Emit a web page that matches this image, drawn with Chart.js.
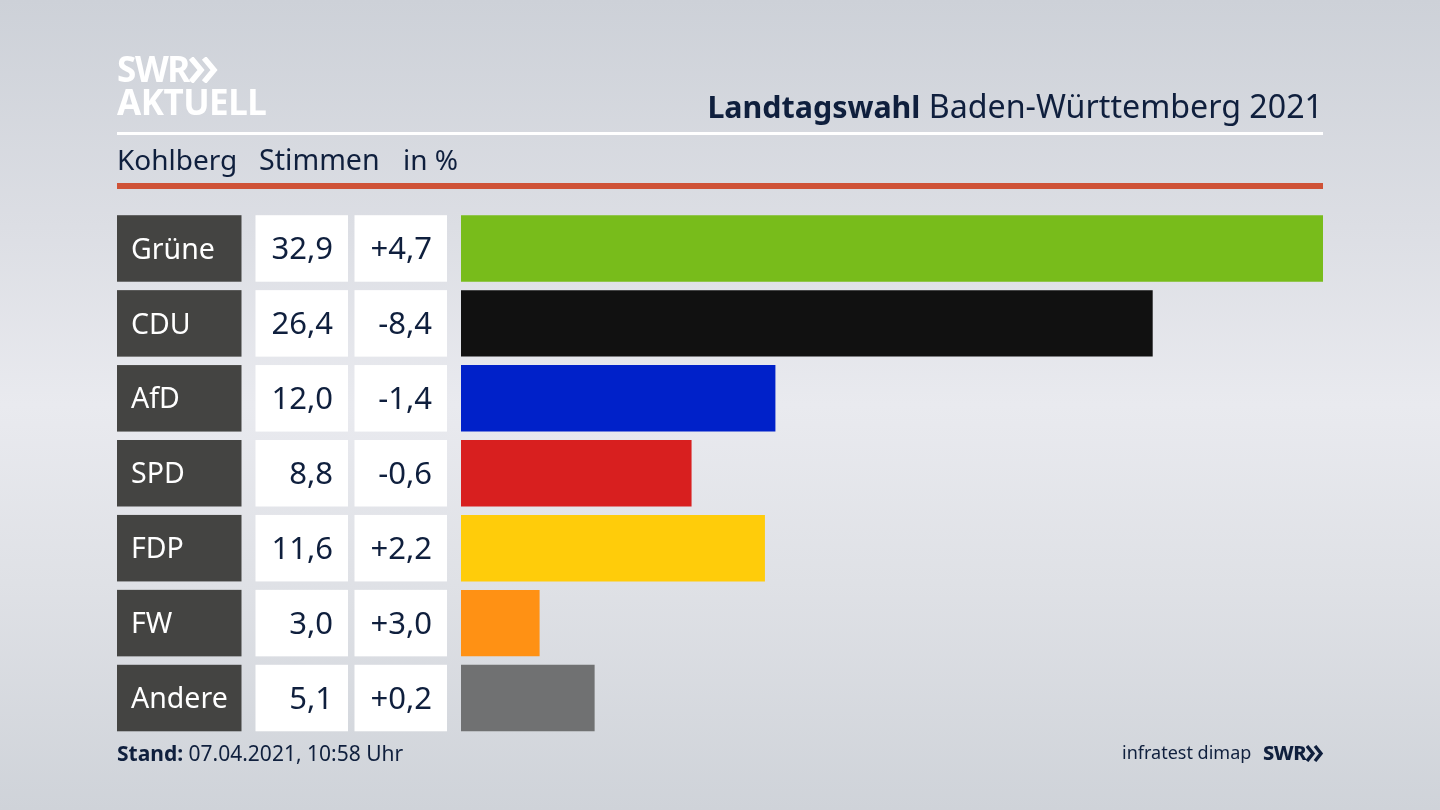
<!DOCTYPE html>
<html lang="de">
<head>
<meta charset="utf-8">
<title>Landtagswahl Baden-Württemberg 2021</title>
<script src="https://cdn.jsdelivr.net/npm/chart.js@4"></script>
<style>
	html, body { margin: 0; padding: 0; }
	body {
		position: relative;
		width: 1440px;
		height: 810px;
		overflow: hidden;
		font-family: 'Noto Sans', sans-serif;
		color: #0f1f3d;
		background: linear-gradient(180deg, #cdd1d8 0%, #dcdee4 28%, #e9eaef 50%, #dfe1e6 72%, #cfd3d9 100%);
	}
	canvas { position: absolute; left: 0; top: 0; }
	.t { position: absolute; white-space: nowrap; line-height: 1; }
	.rule { position: absolute; left: 117px; width: 1206px; }
	.logo { color: #fff; font-weight: 700; letter-spacing: -0.5px; }
	svg { position: absolute; }
</style>
</head>
<body>
<canvas id="graph" width="1440" height="810"></canvas>

<div class="t logo" style="left:117px;top:51px;font-size:35px;letter-spacing:-1.4px;">SWR</div>
<svg style="left:189px;top:57px" width="31" height="26" viewBox="0 0 31 26">
	<path d="M2 1 L12 13 L2 25 M15 1 L25 13 L15 25" fill="none" stroke="#fff" stroke-width="5.5"/>
</svg>
<div class="t logo" style="left:117px;top:84px;font-size:35px;letter-spacing:-0.5px;">AKTUELL</div>

<div class="t" style="right:117px;top:90px;font-size:32.2px;"><b style="font-size:30.4px;">Landtagswahl</b> Baden-Württemberg 2021</div>
<div class="rule" style="top:132px;height:3px;background:#fff;"></div>

<div class="t" style="left:117px;top:145px;font-size:28px;">Kohlberg</div>
<div class="t" style="left:259px;top:145px;font-size:28.6px;">Stimmen</div>
<div class="t" style="left:403px;top:145px;font-size:28px;">in %</div>
<div class="rule" style="top:183px;height:6px;background:#cf5237;"></div>

<div class="t" style="left:117px;top:743px;font-size:21px;"><b>Stand:</b> 07.04.2021, 10:58 Uhr</div>
<div class="t" style="left:1122px;top:743px;font-size:18px;">infratest dimap</div>
<div class="t" style="left:1263px;top:743px;font-size:20px;font-weight:800;letter-spacing:-0.5px;">SWR</div>
<svg style="left:1306px;top:745px" width="18" height="17" viewBox="0 0 18 17">
	<path d="M1 1 L7 8.5 L1 16 M9 1 L15 8.5 L9 16" fill="none" stroke="#0f1f3d" stroke-width="3.4"/>
</svg>

<script>
const parties = ['Grüne', 'CDU', 'AfD', 'SPD', 'FDP', 'FW', 'Andere'];
const shares = [32.9, 26.4, 12.0, 8.8, 11.6, 3.0, 5.1];
const changes = ['+4,7', '-8,4', '-1,4', '-0,6', '+2,2', '+3,0', '+0,2'];
const colors = ['#78bc1b', '#111111', '#0021c9', '#d81f1f', '#ffcc0a', '#ff9114', '#707172'];

const fmt = (v) => v.toFixed(1).replace('.', ',');

// Tabellenzellen links neben den Balken
const cells = {
	id: 'cells',
	afterDatasetsDraw(chart) {
		const ctx = chart.ctx;
		const y = chart.scales.y;
		const h = 66.5;
		ctx.save();
		ctx.textBaseline = 'middle';
		parties.forEach((p, i) => {
			const top = y.getPixelForValue(i) - h / 2;
			const mid = top + h / 2 + 2;

			ctx.fillStyle = '#444442';
			ctx.fillRect(117, top, 124.5, h);
			ctx.fillStyle = '#ffffff';
			ctx.fillRect(255.5, top, 92.5, h);
			ctx.fillRect(354.5, top, 92.5, h);

			ctx.font = '28.5px "Noto Sans"';
			ctx.textAlign = 'left';
			ctx.fillText(p, 131, mid);

			ctx.font = '31px "Noto Sans"';
			ctx.fillStyle = '#0f1f3d';
			ctx.textAlign = 'right';
			ctx.fillText(fmt(shares[i]), 333, mid);
			ctx.fillText(changes[i], 432, mid);
		});
		ctx.restore();
	},
};

new Chart(document.getElementById('graph'), {
	type: 'bar',
	data: {
		labels: parties,
		datasets: [
			{
				data: shares,
				backgroundColor: colors,
				barPercentage: 66.5 / 75,
				categoryPercentage: 1,
			},
		],
	},
	options: {
		indexAxis: 'y',
		responsive: false,
		animation: false,
		layout: { padding: { left: 461, right: 117, top: 211, bottom: 74.5 } },
		scales: {
			x: { display: false, min: 0, max: 32.9 },
			y: { display: false },
		},
		plugins: {
			legend: { display: false },
			tooltip: { enabled: false },
		},
	},
	plugins: [cells],
});
</script>
</body>
</html>
